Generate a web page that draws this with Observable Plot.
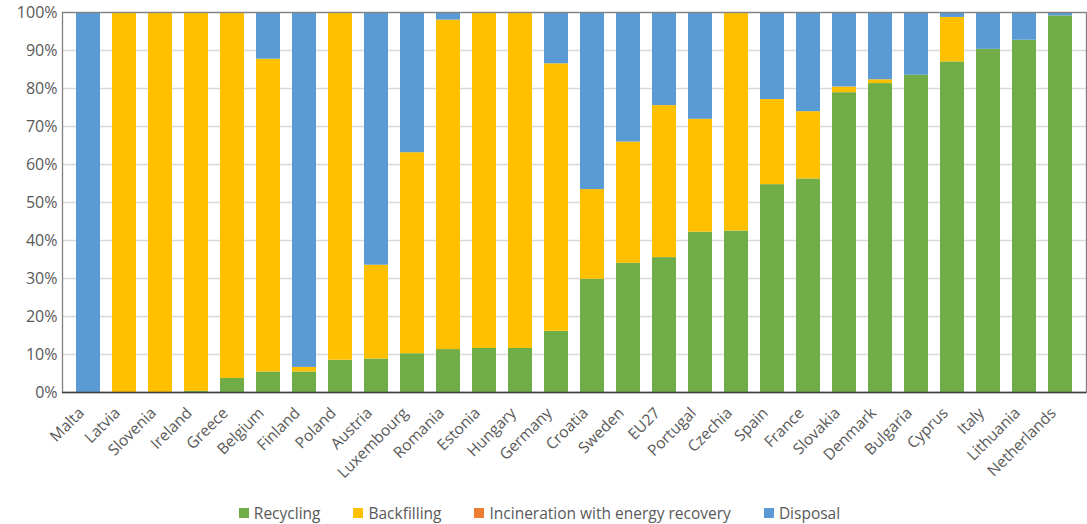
<!DOCTYPE html>
<html>
<head>
<meta charset="utf-8">
<script src="https://cdn.jsdelivr.net/npm/d3@7"></script>
<script src="https://cdn.jsdelivr.net/npm/@observablehq/plot@0.6"></script>
<style>
  html, body { margin: 0; padding: 0; background: #fff; }
  #chart { width: 1087px; }
  .legend {
    display: flex; justify-content: center; align-items: center; gap: 33px;
    font-family: "Open Sans", sans-serif; font-size: 15.5px; color: #595959;
    line-height: 20px; margin-top: 3px; padding-right: 8px;
  }
  .legend span.item { display: flex; align-items: center; }
  .legend span.sw { width: 10px; height: 10px; margin-right: 5px; display: inline-block; }
</style>
</head>
<body>
<div id="chart"></div>
<script>
// Share of each treatment route per country (%), sorted by recycling share
const countries = ["Malta","Latvia","Slovenia","Ireland","Greece","Belgium","Finland","Poland","Austria","Luxembourg","Romania","Estonia","Hungary","Germany","Croatia","Sweden","EU27","Portugal","Czechia","Spain","France","Slovakia","Denmark","Bulgaria","Cyprus","Italy","Lithuania","Netherlands"];
const recycling    = [0, 0, 0, 0.3, 3.7, 5.4, 5.4, 8.5, 8.8, 10.2, 11.3, 11.6, 11.6, 16.1, 29.8, 34.0, 35.5, 42.2, 42.5, 54.7, 56.2, 78.9, 81.3, 83.5, 87.0, 90.3, 92.7, 99.1];
const backfilling  = [0, 100, 100, 99.7, 96.3, 82.3, 1.2, 91.5, 24.7, 52.9, 86.7, 88.4, 88.4, 70.4, 23.6, 31.9, 40.0, 29.7, 57.5, 22.4, 17.7, 1.5, 1.0, 0, 11.7, 0, 0, 0];
const incineration = [0, 0, 0, 0, 0, 0, 0, 0, 0, 0, 0, 0, 0, 0, 0, 0, 0, 0, 0, 0, 0, 0, 0, 0, 0, 0, 0, 0];
const disposal     = [100, 0, 0, 0, 0, 12.3, 93.4, 0, 66.5, 36.9, 2.0, 0, 0, 13.5, 46.6, 34.1, 24.5, 28.1, 0, 22.9, 26.1, 19.6, 17.7, 16.5, 1.3, 9.7, 7.3, 0.9];

const types = ["Recycling", "Backfilling", "Incineration with energy recovery", "Disposal"];
const colors = ["#70AD47", "#FFC000", "#ED7D31", "#5B9BD5"];
const yTicks = [0, 10, 20, 30, 40, 50, 60, 70, 80, 90, 100];

const seriesValues = [recycling, backfilling, incineration, disposal];
const rows = [];
countries.forEach((c, i) => {
  types.forEach((t, k) => rows.push({country: c, type: t, value: seriesValues[k][i]}));
});

const chart = Plot.plot({
  width: 1087,
  height: 500,
  marginTop: 12,
  marginLeft: 62,
  marginRight: 1,
  marginBottom: 108,
  style: {fontFamily: "'Open Sans', sans-serif", color: "#595959", background: "#fff"},
  x: {domain: countries, paddingInner: 0.34, paddingOuter: 0.17, label: null, axis: null},
  y: {domain: [0, 100], label: null, axis: null},
  color: {domain: types, range: colors},
  marks: [
    Plot.gridY(yTicks, {stroke: "#d9d9d9", strokeOpacity: 1, strokeWidth: 1.3}),
    Plot.barY(rows, {x: "country", y: "value", fill: "type", order: types}),
    Plot.frame({stroke: "#808080", strokeWidth: 1.3}),
    Plot.ruleY([0], {stroke: "#404040", strokeWidth: 1.3}),
    Plot.axisY(yTicks, {tickSize: 0, tickPadding: 5, fontSize: 16, tickFormat: d => d + "%", label: null, fill: "#595959"}),
    Plot.axisX({tickSize: 0, tickPadding: 18, dx: -7, tickRotate: -45, fontSize: 15.5, label: null, fill: "#595959"})
  ]
});
document.getElementById("chart").appendChild(chart);

// Legend below the chart
const legend = document.createElement("div");
legend.className = "legend";
types.forEach((t, k) => {
  const item = document.createElement("span");
  item.className = "item";
  const sw = document.createElement("span");
  sw.className = "sw";
  sw.style.background = colors[k];
  item.appendChild(sw);
  item.appendChild(document.createTextNode(t));
  legend.appendChild(item);
});
document.getElementById("chart").appendChild(legend);
</script>
</body>
</html>
